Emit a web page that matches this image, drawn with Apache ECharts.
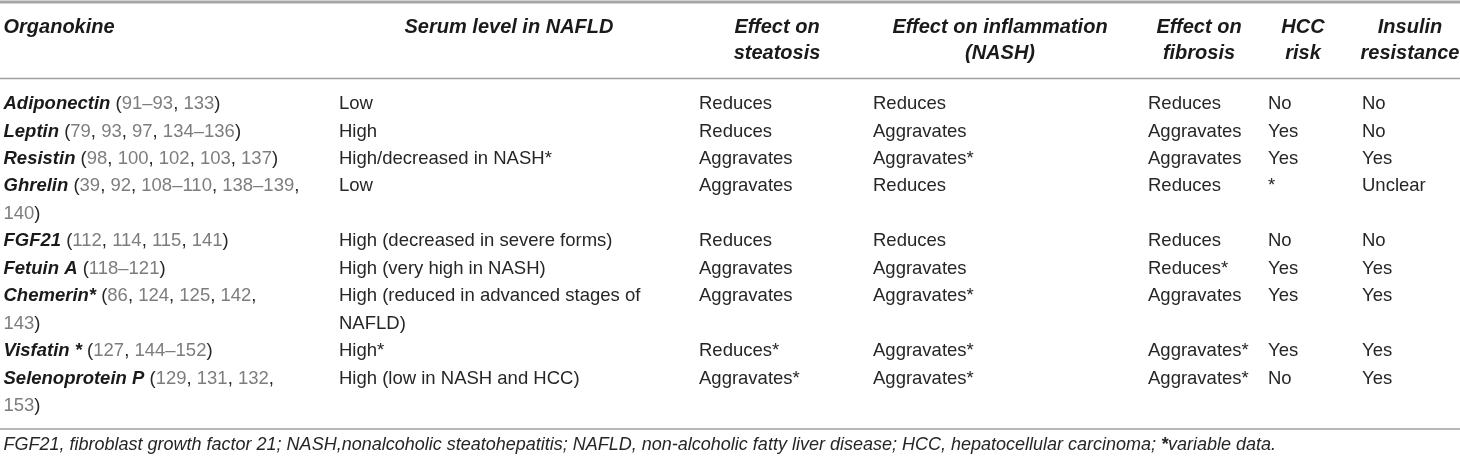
<!DOCTYPE html>
<html>
<head>
<meta charset="utf-8">
<script src="https://cdn.jsdelivr.net/npm/echarts@6/dist/echarts.min.js"></script>
<style>
    html, body {margin: 0; padding: 0; background: #fff;}
    #chart {width: 1460px; height: 460px;}
</style>
</head>
<body>
<div id="chart"></div>
<script>
// table content
var organokines = ['Adiponectin', 'Leptin', 'Resistin', 'Ghrelin', 'FGF21', 'Fetuin A', 'Chemerin*', 'Visfatin *', 'Selenoprotein P'];
var references = ['(91–93, 133)', '(79, 93, 97, 134–136)', '(98, 100, 102, 103, 137)', '(39, 92, 108–110, 138–139,\n140)',
    '(112, 114, 115, 141)', '(118–121)', '(86, 124, 125, 142,\n143)', '(127, 144–152)', '(129, 131, 132,\n153)'];
var serumLevel = ['Low', 'High', 'High/decreased in NASH*', 'Low', 'High (decreased in severe forms)', 'High (very high in NASH)',
    'High (reduced in advanced stages of\nNAFLD)', 'High*', 'High (low in NASH and HCC)'];
var steatosis = ['Reduces', 'Reduces', 'Aggravates', 'Aggravates', 'Reduces', 'Aggravates', 'Aggravates', 'Reduces*', 'Aggravates*'];
var inflammation = ['Reduces', 'Aggravates', 'Aggravates*', 'Reduces', 'Reduces', 'Aggravates', 'Aggravates*', 'Aggravates*', 'Aggravates*'];
var fibrosis = ['Reduces', 'Aggravates', 'Aggravates', 'Reduces', 'Reduces', 'Reduces*', 'Aggravates', 'Aggravates*', 'Aggravates*'];
var hccRisk = ['No', 'Yes', 'Yes', '*', 'No', 'Yes', 'Yes', 'Yes', 'No'];
var insulinResistance = ['No', 'No', 'Yes', 'Unclear', 'No', 'Yes', 'Yes', 'Yes', 'Yes'];
var headers = ['Organokine', 'Serum level in NAFLD', 'Effect on\nsteatosis', 'Effect on inflammation\n(NASH)',
    'Effect on\nfibrosis', 'HCC\nrisk', 'Insulin\nresistance'];
var footnote = 'FGF21, fibroblast growth factor 21; NASH,nonalcoholic steatohepatitis; NAFLD, non-alcoholic fatty liver disease; HCC, hepatocellular carcinoma; {fb|*}variable data.';

// layout (pixels)
var colLeft = [3.5, 339, 699, 873, 1148, 1268, 1362];
var headCenter = [3.5, 509, 777, 1000, 1199, 1303, 1410];
var firstLineY = 104;
var lineH = 27.45;
var font = 'Liberation Sans, Arial, sans-serif';
var textColor = '#262626';
var refColor = '#7d7d7d';

var chart = echarts.init(document.getElementById('chart'));

function refsRich(s) {
    return s.replace(/[0-9–]+/g, function (m) {
        return '{n|' + m + '}';
    });
}

function lineCount(s) {
    return s.split('\n').length;
}

function buildCells() {
    var cols = [null, serumLevel, steatosis, inflammation, fibrosis, hccRisk, insulinResistance];
    var cells = [];
    var line = 0;
    organokines.forEach(function (name, r) {
        var first = '{b|' + name + '} ' + refsRich(references[r]);
        var n = lineCount(references[r]);
        cells.push([colLeft[0], line, first, 'body']);
        for (var c = 1; c < cols.length; c++) {
            cells.push([colLeft[c], line, cols[c][r], 'body']);
            n = Math.max(n, lineCount(cols[c][r]));
        }
        line += n;
    });
    return cells;
}

function buildHeaders() {
    // header rows sit at 27px and 53px, i.e. in "line" units of the body
    var l1 = (27 - firstLineY) / lineH;
    var mid = (40 - firstLineY) / lineH;
    return headers.map(function (h, i) {
        var two = h.indexOf('\n') >= 0;
        return [headCenter[i], two ? mid : l1, h, i === 0 ? 'headLeft' : 'head'];
    });
}

var richStyles = {
    b: {fontFamily: font, fontSize: 18.5, fontWeight: 'bold', fontStyle: 'italic', fill: '#1a1a1a', lineHeight: lineH},
    n: {fontFamily: font, fontSize: 18.5, fill: refColor, lineHeight: lineH},
    fb: {fontFamily: font, fontSize: 18, fontWeight: 'bold', fontStyle: 'italic', fill: textColor, lineHeight: 22}
};

function renderCell(params, api) {
    var p = api.coord([api.value(0), api.value(1)]);
    var kind = api.value(3);
    var text = api.value(2);
    if (kind === 'head' || kind === 'headLeft') {
        return {
            type: 'text',
            x: p[0], y: p[1],
            style: {
                text: text,
                fontFamily: font, fontSize: 20, fontWeight: 'bold', fontStyle: 'italic',
                fill: '#1a1a1a', lineHeight: 26,
                align: kind === 'head' ? 'center' : 'left',
                verticalAlign: 'middle'
            }
        };
    }
    var top = api.coord([api.value(0), api.value(1) - 0.5]);
    return {
        type: 'text',
        x: top[0], y: top[1],
        style: {
            text: text,
            rich: richStyles,
            fontFamily: font, fontSize: 18.5, fill: textColor, lineHeight: lineH,
            align: 'left', verticalAlign: 'top'
        }
    };
}

var data = buildHeaders().concat(buildCells());

var option = {
    animation: false,
    backgroundColor: '#fff',
    grid: {left: 0, right: 0, top: 0, bottom: 0},
    xAxis: {type: 'value', min: 0, max: 1460, show: false},
    yAxis: {
        type: 'value', inverse: true, show: false,
        min: -firstLineY / lineH,
        max: (460 - firstLineY) / lineH
    },
    graphic: [
        {type: 'line', shape: {x1: 0, y1: 2, x2: 1460, y2: 2}, style: {stroke: '#a6a6a6', lineWidth: 3}},
        {type: 'line', shape: {x1: 0, y1: 78.5, x2: 1460, y2: 78.5}, style: {stroke: '#a0a0a0', lineWidth: 1.5}},
        {type: 'line', shape: {x1: 0, y1: 429, x2: 1460, y2: 429}, style: {stroke: '#a0a0a0', lineWidth: 1.5}},
        {
            type: 'text', left: 3.5, top: 434,
            style: {
                text: footnote, rich: richStyles,
                fontFamily: font, fontSize: 18, fontStyle: 'italic', fill: textColor, lineHeight: 22
            }
        }
    ],
    series: [{
        type: 'custom',
        renderItem: renderCell,
        data: data,
        clip: false
    }]
};
chart.setOption(option);
</script>
</body>
</html>
